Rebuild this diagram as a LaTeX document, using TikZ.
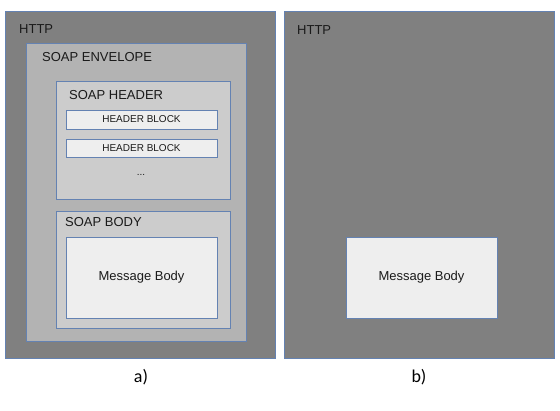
\documentclass[tikz,border=0pt]{standalone}
\usepackage{fontspec}
\setmainfont{Liberation Sans}
\newfontfamily\capfont{Carlito}
\definecolor{httpgray}{HTML}{808080}
\definecolor{envgray}{HTML}{B3B3B3}
\definecolor{hdrgray}{HTML}{CCCCCC}
\definecolor{blockgray}{HTML}{EEEEEE}
\definecolor{edgeblue}{HTML}{6482B2}
\definecolor{txt}{HTML}{1A1A1A}
\begin{document}
\begin{tikzpicture}[x=1pt,y=-1pt,
  box/.style={draw=edgeblue, line width=0.9pt, inner sep=0pt, outer sep=0pt, anchor=north west},
  lbl/.style={anchor=west, inner sep=0pt, text=txt, font=\fontsize{13}{15}\selectfont},
  clbl/.style={anchor=center, inner sep=0pt, text=txt, font=\fontsize{13}{15}\selectfont},
  small/.style={anchor=center, inner sep=0pt, text=txt, font=\fontsize{10}{12}\selectfont},
  caplbl/.style={anchor=center, inner sep=0pt, text=black, font=\capfont\fontsize{18}{20}\selectfont}]
\useasboundingbox[fill=white] (0,0) rectangle (560,410);
% panel a
\node[box, fill=httpgray, minimum width=270pt, minimum height=347pt] (httpA) at (5,11) {};
\node[lbl] (httpAl) at (19,29) {HTTP};
\node[box, fill=envgray, minimum width=220pt, minimum height=298pt] (env) at (26,43) {};
\node[lbl] (envl) at (42,57) {SOAP ENVELOPE};
\node[box, fill=hdrgray, minimum width=174pt, minimum height=118pt] (hdr) at (56,81) {};
\node[lbl] (hdrl) at (69,95) {SOAP HEADER};
\node[box, fill=blockgray, minimum width=151pt, minimum height=19pt] (hb1) at (66,110) {};
\node[small] at (hb1.center) {HEADER BLOCK};
\node[box, fill=blockgray, minimum width=151pt, minimum height=18pt] (hb2) at (66,139) {};
\node[small] at (hb2.center) {HEADER BLOCK};
\node[small] (dots) at (141,175) {...};
\node[box, fill=hdrgray, minimum width=174pt, minimum height=117pt] (body) at (56,211) {};
\node[lbl] (bodyl) at (65,222) {SOAP BODY};
\node[box, fill=blockgray, minimum width=151pt, minimum height=81pt] (msgA) at (66,237) {};
\node[clbl] at (msgA.center) {Message Body};
\node[caplbl] (capA) at (141,377) {a)};
% panel b
\node[box, fill=httpgray, minimum width=270pt, minimum height=347pt] (httpB) at (284,11) {};
\node[lbl] (httpBl) at (297,30) {HTTP};
\node[box, fill=blockgray, minimum width=151pt, minimum height=81pt] (msgB) at (346,237) {};
\node[clbl] at (msgB.center) {Message Body};
\node[caplbl] (capB) at (419,377) {b)};
\end{tikzpicture}
\end{document}
